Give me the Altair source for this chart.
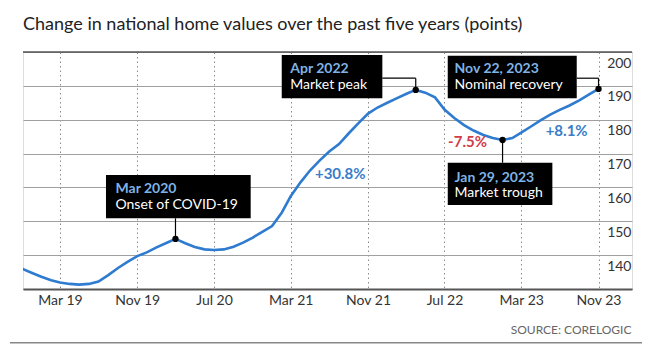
import altair as alt
import pandas as pd

# ---------------- data ----------------
months = pd.date_range("2018-11-01", "2023-11-01", freq="MS").strftime("%Y-%m-%dT00:00:00").tolist()
values = [136.0, 134.8, 133.6, 132.6, 131.9, 131.5, 131.3, 131.5, 132.2, 134.1,
          136.2, 138.0, 139.7, 140.8, 142.3, 143.6, 144.8, 143.5, 142.4, 141.7,
          141.5, 141.7, 142.5, 143.7, 145.2, 146.9, 148.6, 152.6, 157.4, 161.5,
          165.0, 168.0, 170.6, 172.8, 176.0, 178.9, 181.8, 183.6, 185.0, 186.4,
          187.6, 188.8, 188.0, 186.6, 183.0, 180.5, 178.4, 176.8, 175.5, 174.6,
          174.0, 174.6, 176.2, 178.0, 179.8, 181.5, 182.9, 184.2, 185.7, 187.4,
          189.1]

tick_dates = ["2019-03-01", "2019-11-01", "2020-07-01", "2021-03-01",
              "2021-11-01", "2022-07-01", "2023-03-01", "2023-11-01"]
y_ticks = [130, 140, 150, 160, 170, 180, 190, 200]

event_dates = ["2020-03-01T00:00:00", "2022-04-01T00:00:00",
               "2023-11-01T00:00:00", "2023-01-01T00:00:00"]
event_titles = ["Mar 2020", "Apr 2022", "Nov 22, 2023", "Jan 29, 2023"]
event_captions = ["Onset of COVID-19", "Market peak", "Nominal recovery", "Market trough"]

pct_texts = ["+30.8%", "-7.5%", "+8.1%"]
pct_dates = ["2021-08-05T00:00:00", "2022-09-12T00:00:00", "2023-07-23T00:00:00"]
pct_values = [163.9, 173.5, 176.7]

# ---------------- styles ----------------
FONT = "Lato, sans-serif"
W, H = 609, 237
LINE = "#2e7bcf"
BLUE_TXT = "#3a7dc9"
RED_TXT = "#d23c4a"
BOX_BLUE = "#7fb2e5"

# annotation layout (pixel offsets relative to the event point)
layouts = [
    dict(box=(-69.5, 75.2, -63.9, -20.6), tdx=-60, tdy=(-49.5, -33.5),
         conn=[(0, 0, -20.6, 0)]),
    dict(box=(-134, -33.4, -35, 8.3), tdx=-125.5, tdy=(-21, -5),
         conn=[(-33.4, 0, -11.7, -11.7), (0, 0, -11.7, 0)]),
    dict(box=(-150.8, -21.8, -33.2, 9.4), tdx=-144, tdy=(-20, -4),
         conn=[(-21.8, 0, -10.7, -10.7), (0, 0, -10.7, 0)]),
    dict(box=(-54.8, 49.8, 22.7, 65), tdx=-48, tdy=(37.5, 53),
         conn=[(0, 0, 0, 22.7)]),
]

df = pd.DataFrame({"date": months, "value": values})

x_scale = alt.Scale(domain=[alt.DateTime(year=2018, month=11, date=4),
                            alt.DateTime(year=2024, month=2, date=15)])
y_scale = alt.Scale(domain=[130, 200], nice=False, zero=False)

x_axis = alt.Axis(
    values=[alt.DateTime(year=int(d[:4]), month=int(d[5:7]), date=1) for d in tick_dates],
    format="%b %y", labelFont=FONT, labelFontSize=14, labelColor="#333",
    labelPadding=4, ticks=False, grid=True, gridDash=[1.5, 3], gridColor="#8a8a8a",
    gridWidth=1, domainColor="#555", domainWidth=2, labelFlush=False, labelOverlap=False,
    titleFont=FONT, titleFontSize=12,
    titleFontWeight="normal", titleColor="#666", titleAnchor="end",
    titleAlign="right", titleX=W - 1, titleY=40, titleBaseline="middle",
)
y_axis = alt.Axis(
    orient="right", values=y_ticks,
    labelExpr="datum.value == 130 ? '' : datum.label",
    ticks=False, domain=False, grid=True, gridColor="#a0a0a0", gridWidth=1,
    labelAlign="right", labelPadding=-1, labelBaseline="middle", labelOffset=11,
    labelFlush=False, labelOverlap=False, labelFont=FONT, labelFontSize=14,
    labelColor="#333",
)

X = alt.X("date:T", scale=x_scale, axis=x_axis, title="SOURCE: CORELOGIC")
Y = alt.Y("value:Q", scale=y_scale, axis=y_axis, title=None)

line = alt.Chart(df).mark_line(color=LINE, strokeWidth=2.6, clip=True).encode(x=X, y=Y)

top_rule = alt.Chart(pd.DataFrame({"value": [200]})).mark_rule(
    color="#555", strokeWidth=1.5).encode(y=Y)

bottom_rule = alt.Chart(pd.DataFrame({"v": [0]})).mark_rule(
    color="#888", strokeWidth=1.5).encode(
    x=alt.value(-13), x2=alt.value(619), y=alt.value(290.7))

layers = [line, top_rule, bottom_rule]

for i in range(len(event_titles)):
    idx = months.index(event_dates[i])
    src = pd.DataFrame({"date": [event_dates[i]], "value": [values[idx]],
                        "t1": [event_titles[i]], "t2": [event_captions[i]]})
    L = layouts[i]
    c = alt.Chart(src)
    for (ox1, ox2, oy1, oy2) in L["conn"]:
        layers.append(c.mark_rule(color="black", strokeWidth=1.2, xOffset=ox1, x2Offset=ox2,
                                  yOffset=oy1, y2Offset=oy2).encode(
            x=X, x2=alt.X2("date:T"), y=Y, y2=alt.Y2("value:Q")))
    bx1, bx2, by1, by2 = L["box"]
    layers.append(c.mark_rect(color="black", xOffset=bx1, x2Offset=bx2,
                              yOffset=by1, y2Offset=by2).encode(
        x=X, x2=alt.X2("date:T"), y=Y, y2=alt.Y2("value:Q")))
    layers.append(c.mark_text(align="left", baseline="middle", dx=L["tdx"], dy=L["tdy"][0],
                              font=FONT, fontSize=14, fontWeight="bold", color=BOX_BLUE).encode(
        x=X, y=Y, text="t1:N"))
    layers.append(c.mark_text(align="left", baseline="middle", dx=L["tdx"], dy=L["tdy"][1],
                              font=FONT, fontSize=14, color="white").encode(
        x=X, y=Y, text="t2:N"))
    layers.append(c.mark_circle(color="black", size=40, opacity=1).encode(x=X, y=Y))

pct_df = pd.DataFrame({"date": pct_dates, "value": pct_values, "t": pct_texts,
                       "c": [BLUE_TXT, RED_TXT, BLUE_TXT]})
layers.append(alt.Chart(pct_df).mark_text(font=FONT, fontSize=15, fontWeight="bold",
                                          baseline="middle").encode(
    x=X, y=Y, text="t:N", color=alt.Color("c:N", scale=None)))

chart = alt.layer(*layers).properties(
    width=W, height=H,
    title=alt.TitleParams("Change in national home values over the past five years (points)",
                          anchor="start", frame="group", font=FONT, fontSize=18,
                          fontWeight="normal", color="#222", offset=17),
    padding={"left": 15, "top": 44, "right": 20, "bottom": 60},
    autosize=alt.AutoSizeParams(type="none"),
).configure_view(stroke=None).configure(background="white")

chart.save("out.html", embed_options={"renderer": "svg", "actions": False})
